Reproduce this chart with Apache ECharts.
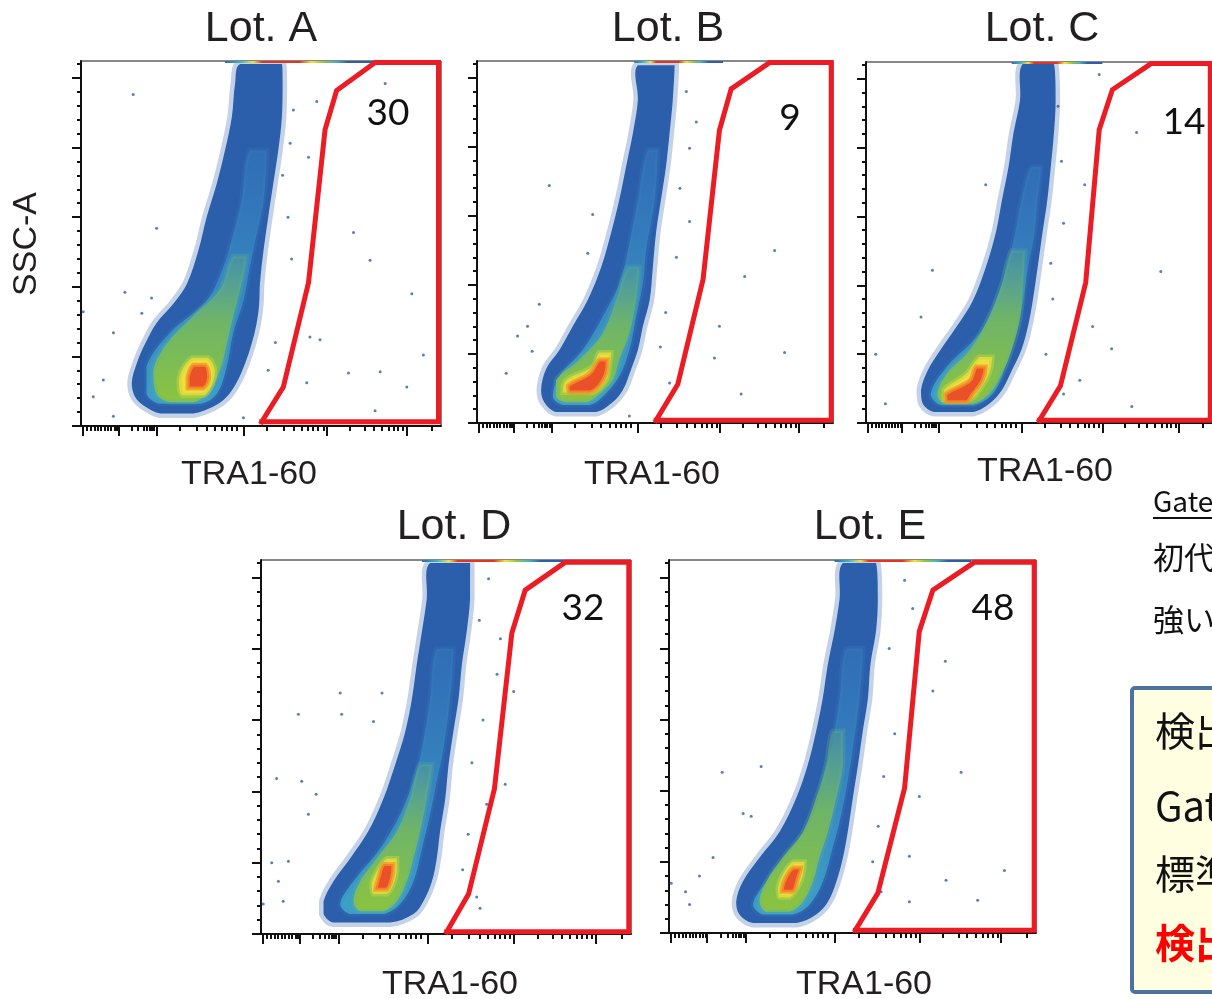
<!DOCTYPE html>
<html>
<head>
<meta charset="utf-8">
<script src="https://cdn.jsdelivr.net/npm/echarts@6/dist/echarts.min.js"></script>
<style>
  html, body { margin: 0; padding: 0; background: #fff; }
  #chart { width: 1212px; height: 999px; }
</style>
</head>
<body>
<div id="chart"></div>
<script>
// ---- data ----
// x: TRA1-60 display channel (0-1000), y: SSC-A in thousands (0-262.144)
const lots = ['Lot. A', 'Lot. B', 'Lot. C', 'Lot. D', 'Lot. E'];
const gatePct = [30, 9, 14, 32, 48];

const xMajorTicks = [5, 104, 210, 451, 683, 905];
const xMinorTicks = [16, 27, 37, 46, 56, 65, 74, 83, 93, 99, 141, 159, 173, 182, 190, 196, 203,
  275, 321, 349, 372, 391, 405, 419, 432, 516, 562, 590, 613, 631, 645, 659, 673,
  747, 789, 812, 835, 854, 868, 881, 895, 974];
const yMajorTicks = [0, 50, 100, 150, 200, 250];
const yMinorTicks = [10, 20, 30, 40, 60, 70, 80, 90, 110, 120, 130, 140, 160, 170, 180, 190,
  210, 220, 230, 240, 260];

// density contours: [ssc, left channel, right channel]
const aOuter = [[260, 442, 558], [246, 428, 560], [222, 419, 558], [198, 400, 548], [174, 377, 534], [150, 349, 520], [126, 326, 507], [102, 294, 497], [88, 257, 495], [74, 210, 488], [59, 178, 474], [45, 155, 456], [31, 141, 432], [21, 150, 405], [14, 178, 368], [9, 220, 312]];
const aMid = [[198, 469, 516], [162, 446, 507], [138, 423, 488], [114, 395, 469], [90, 349, 451], [67, 247, 423], [43, 182, 405], [23, 182, 377], [16, 219, 331]];
const aGreen = [[122, 423, 460], [98, 386, 442], [79, 312, 423], [59, 238, 405], [40, 201, 386], [23, 210, 349], [17, 247, 312]];
const aYellow = [[49, 310, 352], [40, 280, 372], [31, 272, 366], [22, 282, 342]];
const aRed = [[44, 312, 346], [35, 296, 356], [27, 296, 340]];

const bOuter = [[259, 452, 555], [234, 452, 550], [210, 438, 541], [186, 419, 531], [162, 400, 517], [138, 377, 503], [113, 349, 494], [89, 311, 485], [70, 269, 466], [53, 232, 452], [39, 194, 433], [24, 180, 410], [15, 189, 381], [8, 222, 335]];
const bMid = [[198, 480, 508], [162, 452, 499], [125, 424, 475], [101, 400, 466], [77, 353, 447], [53, 297, 428], [34, 232, 400], [19, 213, 353], [13, 241, 316]];
const bGreen = [[113, 424, 456], [89, 391, 447], [65, 353, 428], [46, 288, 400], [31, 222, 381], [19, 222, 335], [15, 250, 307]];
const bYellow = [[51, 344, 377], [41, 325, 372], [31, 250, 363], [22, 241, 325]];
const bRed = [[46, 344, 367], [36, 316, 363], [27, 255, 344], [22, 260, 316]];

const cOuter = [[261, 454, 543], [234, 445, 548], [210, 426, 543], [186, 412, 534], [162, 393, 524], [138, 375, 510], [113, 346, 496], [89, 309, 482], [70, 262, 468], [53, 215, 449], [38, 178, 421], [24, 159, 393], [14, 164, 356], [8, 197, 309]];
const cMid = [[186, 478, 506], [162, 449, 496], [138, 431, 487], [113, 407, 468], [89, 375, 454], [65, 328, 431], [41, 234, 403], [21, 187, 365], [13, 215, 309]];
const cGreen = [[125, 421, 459], [101, 393, 454], [77, 356, 446], [53, 300, 421], [36, 234, 393], [21, 206, 356], [14, 225, 309]];
const cYellow = [[48, 328, 365], [36, 290, 356], [24, 225, 328], [17, 225, 300]];
const cRed = [[41, 318, 346], [31, 300, 337], [21, 229, 309], [15, 234, 290]];

const dOuter = [[260, 457, 565], [235, 448, 565], [212, 435, 556], [189, 421, 543], [165, 408, 534], [142, 390, 520], [119, 363, 507], [95, 331, 498], [72, 290, 484], [53, 241, 475], [37, 196, 462], [23, 169, 439], [14, 169, 412], [8, 196, 349]];
const dMid = [[200, 475, 520], [165, 457, 511], [130, 435, 493], [107, 412, 475], [84, 376, 457], [60, 322, 435], [37, 250, 412], [21, 214, 376], [14, 241, 331]];
const dGreen = [[119, 430, 462], [95, 403, 448], [72, 367, 430], [53, 313, 412], [37, 268, 394], [23, 250, 367], [16, 268, 331]];
const dYellow = [[53, 340, 367], [44, 313, 367], [35, 299, 358], [28, 304, 340]];
const dRed = [[49, 331, 358], [39, 317, 354], [31, 309, 340]];

const eOuter = [[260, 474, 564], [235, 465, 569], [212, 451, 564], [189, 433, 549], [165, 419, 542], [142, 401, 528], [118, 378, 515], [95, 347, 501], [71, 301, 487], [53, 247, 474], [36, 201, 456], [22, 183, 433], [13, 192, 401], [7, 229, 347]];
const eMid = [[200, 483, 528], [165, 465, 519], [130, 442, 501], [107, 419, 487], [83, 392, 469], [60, 338, 446], [36, 265, 419], [20, 229, 383], [13, 256, 338]];
const eGreen = [[142, 446, 474], [118, 428, 474], [95, 401, 456], [71, 365, 433], [53, 310, 410], [36, 265, 392], [22, 247, 365], [15, 265, 329]];
const eYellow = [[50, 338, 369], [41, 310, 365], [32, 297, 351], [25, 301, 329]];
const eRed = [[46, 338, 360], [38, 316, 351], [29, 307, 338]];

// gate polygons [channel, ssc]
const aGate = [[502, 3], [562, 28], [632, 103], [678, 213], [710, 241], [817, 261], [993, 261], [993, 3], [502, 3]];
const bGate = [[503, 2], [564, 28], [635, 104], [681, 212], [714, 242], [822, 261], [995, 261], [995, 2], [503, 2]];
const cGate = [[501, 2], [562, 27], [635, 102], [674, 213], [712, 242], [824, 261], [995, 261], [995, 2], [501, 2]];
const dGate = [[502, 1.5], [561, 28], [631, 102], [678, 211], [714, 241], [822, 260.5], [994, 260.5], [994, 1.5], [502, 1.5]];
const eGate = [[508, 2], [569, 28], [642, 102], [682, 212], [719, 241], [832, 260.5], [995, 260.5], [995, 2], [508, 2]];

// sparse events outside the main population
const aDots = [[145, 238], [210, 142], [122, 96], [196, 92], [169, 81], [90, 67], [6, 82], [62, 33], [34, 21], [90, 7], [757, 139], [803, 119], [919, 95], [951, 51], [817, 11], [743, 38], [831, 39], [905, 28], [845, 246], [655, 233], [632, 193], [590, 227], [581, 203], [636, 64], [664, 62], [627, 31], [451, 6], [575, 150], [585, 120], [560, 180], [540, 60], [520, 40]];
const bDots = [[203, 172], [325, 151], [311, 123], [175, 86], [142, 70], [114, 63], [82, 36], [155, 52], [588, 240], [616, 218], [597, 199], [597, 146], [836, 125], [752, 106], [681, 70], [667, 47], [864, 51], [742, 21], [541, 29], [428, 5], [570, 170], [560, 120], [530, 80], [515, 55]];
const cDots = [[192, 111], [159, 77], [28, 50], [56, 14], [346, 173], [674, 253], [782, 211], [632, 173], [571, 145], [852, 110], [655, 70], [710, 54], [618, 31], [768, 12], [571, 21], [534, 116], [565, 190], [555, 230], [540, 90], [520, 50]];
const dDots = [[101, 154], [214, 169], [218, 154], [42, 109], [110, 107], [149, 98], [128, 84], [29, 50], [74, 51], [47, 37], [60, 23], [6, 21], [304, 149], [327, 169], [615, 249], [638, 182], [647, 207], [683, 170], [660, 105], [583, 26], [592, 18], [610, 91], [590, 220], [600, 150], [570, 120], [560, 70], [545, 45]];
const eDots = [[145, 113], [251, 117], [202, 84], [224, 82], [120, 53], [83, 40], [6, 35], [45, 29], [56, 20], [796, 113], [753, 191], [719, 170], [682, 96], [655, 54], [755, 37], [914, 44], [841, 23], [655, 22], [642, 248], [664, 228], [578, 29], [600, 200], [615, 140], [585, 110], [570, 75], [555, 50]];

// off-scale events piled up on the top edge: [from channel, to channel]
const aStrip = [400, 812];
const bStrip = [442, 691];
const cStrip = [421, 683];
const dStrip = [435, 822];
const eStrip = [451, 823];

// ---- layout ----
const panels = [
  { layers: [aOuter, aMid, aGreen, aYellow, aRed], gate: aGate, dots: aDots, strip: aStrip,
    grid: { left: 81, top: 61, width: 360, height: 365 }, title: [261, 29], xName: [249, 475], pct: [388, 113] },
  { layers: [bOuter, bMid, bGreen, bYellow, bRed], gate: bGate, dots: bDots, strip: bStrip,
    grid: { left: 477, top: 61, width: 356, height: 362 }, title: [668, 29], xName: [652, 475], pct: [790, 118] },
  { layers: [cOuter, cMid, cGreen, cYellow, cRed], gate: cGate, dots: cDots, strip: cStrip,
    grid: { left: 866, top: 62, width: 356, height: 361 }, title: [1042, 29], xName: [1045, 472], pct: [1184, 122] },
  { layers: [dOuter, dMid, dGreen, dYellow, dRed], gate: dGate, dots: dDots, strip: dStrip,
    grid: { left: 261, top: 560, width: 370, height: 374 }, title: [454, 527], xName: [450, 985], pct: [583, 608] },
  { layers: [eOuter, eMid, eGreen, eYellow, eRed], gate: eGate, dots: eDots, strip: eStrip,
    grid: { left: 669, top: 560, width: 367, height: 373 }, title: [870, 527], xName: [864, 985], pct: [993, 608] }
];

const vGrad = (stops) => new echarts.graphic.LinearGradient(0, 0, 0, 1,
  stops.map(([offset, color]) => ({ offset, color })));

const layerStyles = [
  { fill: '#2c5fab', stroke: 'rgba(44,95,171,0.28)', lw: 9 },
  { fill: vGrad([[0, 'rgba(52,120,190,0.55)'], [0.5, 'rgba(56,140,196,0.85)'], [1, '#3fa2c6']]), stroke: 'rgba(56,140,196,0.18)', lw: 5 },
  { fill: vGrad([[0, 'rgba(110,185,110,0.25)'], [0.45, 'rgba(125,190,80,0.8)'], [1, '#8cc43f']]), stroke: 'rgba(90,180,150,0.25)', lw: 5 },
  { fill: '#eedf3c', stroke: 'rgba(196,214,64,0.5)', lw: 5 },
  { fill: '#ea5128', stroke: 'rgba(244,150,40,0.75)', lw: 4 }
];

const stripColor = new echarts.graphic.LinearGradient(0, 0, 1, 0, [
  { offset: 0, color: '#2c5eaa' }, { offset: 0.12, color: '#3fb6c4' },
  { offset: 0.2, color: '#f3e43a' }, { offset: 0.26, color: '#e8311f' },
  { offset: 0.5, color: '#e8311f' }, { offset: 0.58, color: '#f3e43a' },
  { offset: 0.66, color: '#8dc63f' }, { offset: 0.74, color: '#3fb6c4' },
  { offset: 0.82, color: '#2c5eaa' }, { offset: 1, color: '#2c5eaa' }
]);

const tickStyle = { color: '#111', width: 2 };
const grid = [];
const xAxis = [];
const yAxis = [];
const series = [];
const graphic = [];

panels.forEach((p, gi) => {
  grid.push(Object.assign({ show: true, borderColor: '#111', borderWidth: 1 }, p.grid));
  [[xMajorTicks, 10, true], [xMinorTicks, 5, false]].forEach(([ticks, len, line]) => {
    xAxis.push({
      type: 'value', gridIndex: gi, min: 0, max: 1000, position: 'bottom',
      axisLine: { show: line, onZero: false, lineStyle: { color: '#111', width: 2 } },
      axisTick: { show: true, customValues: ticks, length: len, lineStyle: tickStyle },
      axisLabel: { show: false }, splitLine: { show: false }
    });
  });
  [[yMajorTicks, 9, true], [yMinorTicks, 4, false]].forEach(([ticks, len, line]) => {
    yAxis.push({
      type: 'value', gridIndex: gi, min: 0, max: 262.144, position: 'left',
      axisLine: { show: line, onZero: false, lineStyle: { color: '#111', width: 2 } },
      axisTick: { show: true, customValues: ticks, length: len, lineStyle: tickStyle },
      axisLabel: { show: false }, splitLine: { show: false }
    });
  });

  const ax = gi * 2;
  p.layers.forEach((rows, li) => {
    const st = layerStyles[li];
    series.push({
      type: 'custom', xAxisIndex: ax, yAxisIndex: ax, silent: true, clip: true, z: 2 + li,
      data: [[rows[0][1], rows[0][0]]],
      renderItem(params, api) {
        const pts = rows.map((r) => api.coord([r[1], r[0]]))
          .concat(rows.slice().reverse().map((r) => api.coord([r[2], r[0]])));
        return {
          type: 'polygon',
          shape: { points: pts, smooth: 0.35, smoothConstraint: [pts[0], pts[0]] },
          style: { fill: st.fill, stroke: st.stroke, lineWidth: st.lw }
        };
      }
    });
  });
  series.push({
    type: 'scatter', xAxisIndex: ax, yAxisIndex: ax, silent: true, z: 8,
    symbolSize: 3, itemStyle: { color: '#2d5eae' }, data: p.dots
  });
  series.push({
    type: 'line', xAxisIndex: ax, yAxisIndex: ax, silent: true, z: 9,
    symbol: 'none', lineStyle: { width: 2, color: stripColor },
    data: [[p.strip[0], 261.4], [p.strip[1], 261.4]]
  });
  series.push({
    type: 'line', xAxisIndex: ax, yAxisIndex: ax, silent: true, z: 10,
    symbol: 'none', clip: false,
    lineStyle: { width: 5, color: '#ec1c24', join: 'miter', cap: 'square' },
    data: p.gate
  });

  graphic.push({
    type: 'text', x: p.title[0], y: p.title[1], silent: true,
    style: { text: lots[gi], font: '43px "Liberation Sans", Arial, sans-serif', fill: '#231f20', textAlign: 'center', textVerticalAlign: 'middle' }
  });
  graphic.push({
    type: 'text', x: p.xName[0], y: p.xName[1], silent: true,
    style: { text: 'TRA1-60', font: '34px "Liberation Sans", Arial, sans-serif', fill: '#231f20', textAlign: 'center', textVerticalAlign: 'middle' }
  });
  graphic.push({
    type: 'text', x: p.pct[0], y: p.pct[1], silent: true, z: 20,
    style: { text: String(gatePct[gi]), font: '37px Lato, "Open Sans", sans-serif', fill: '#111', textAlign: 'center', textVerticalAlign: 'middle' }
  });
});

graphic.push({
  type: 'text', x: 27, y: 244, rotation: Math.PI / 2, silent: true,
  style: { text: 'SSC-A', font: '34px "Liberation Sans", Arial, sans-serif', fill: '#231f20', textAlign: 'center', textVerticalAlign: 'middle' }
});

// notes on the right (cut by the edge of the picture)
const jp = '"Noto Sans CJK JP", sans-serif';
graphic.push(
  { type: 'text', x: 1153, y: 501, style: { text: 'Gate', font: '28px ' + jp, fill: '#111', textVerticalAlign: 'middle' } },
  { type: 'line', shape: { x1: 1153, y1: 518, x2: 1212, y2: 518 }, style: { stroke: '#111', lineWidth: 2 } },
  { type: 'text', x: 1153, y: 557, style: { text: '初代', font: '31px ' + jp, fill: '#111', textVerticalAlign: 'middle' } },
  { type: 'text', x: 1153, y: 619, style: { text: '強い', font: '31px ' + jp, fill: '#111', textVerticalAlign: 'middle' } },
  { type: 'rect', shape: { x: 1132, y: 688, width: 120, height: 304, r: 3 },
    style: { fill: '#fffee0', stroke: '#4e72a0', lineWidth: 4 } },
  { type: 'text', x: 1155, y: 731, style: { text: '検出', font: '40px ' + jp, fill: '#111', textVerticalAlign: 'middle' } },
  { type: 'text', x: 1155, y: 806, style: { text: 'Gate', font: '40px ' + jp, fill: '#111', textVerticalAlign: 'middle' } },
  { type: 'text', x: 1155, y: 874, style: { text: '標準', font: '40px ' + jp, fill: '#111', textVerticalAlign: 'middle' } },
  { type: 'text', x: 1155, y: 943, style: { text: '検出', font: 'bold 40px ' + jp, fill: '#ff0000', textVerticalAlign: 'middle' } }
);

const chart = echarts.init(document.getElementById('chart'), null, { renderer: 'canvas' });
chart.setOption({
  animation: false,
  backgroundColor: '#fff',
  grid, xAxis, yAxis, series, graphic
});
</script>
</body>
</html>
